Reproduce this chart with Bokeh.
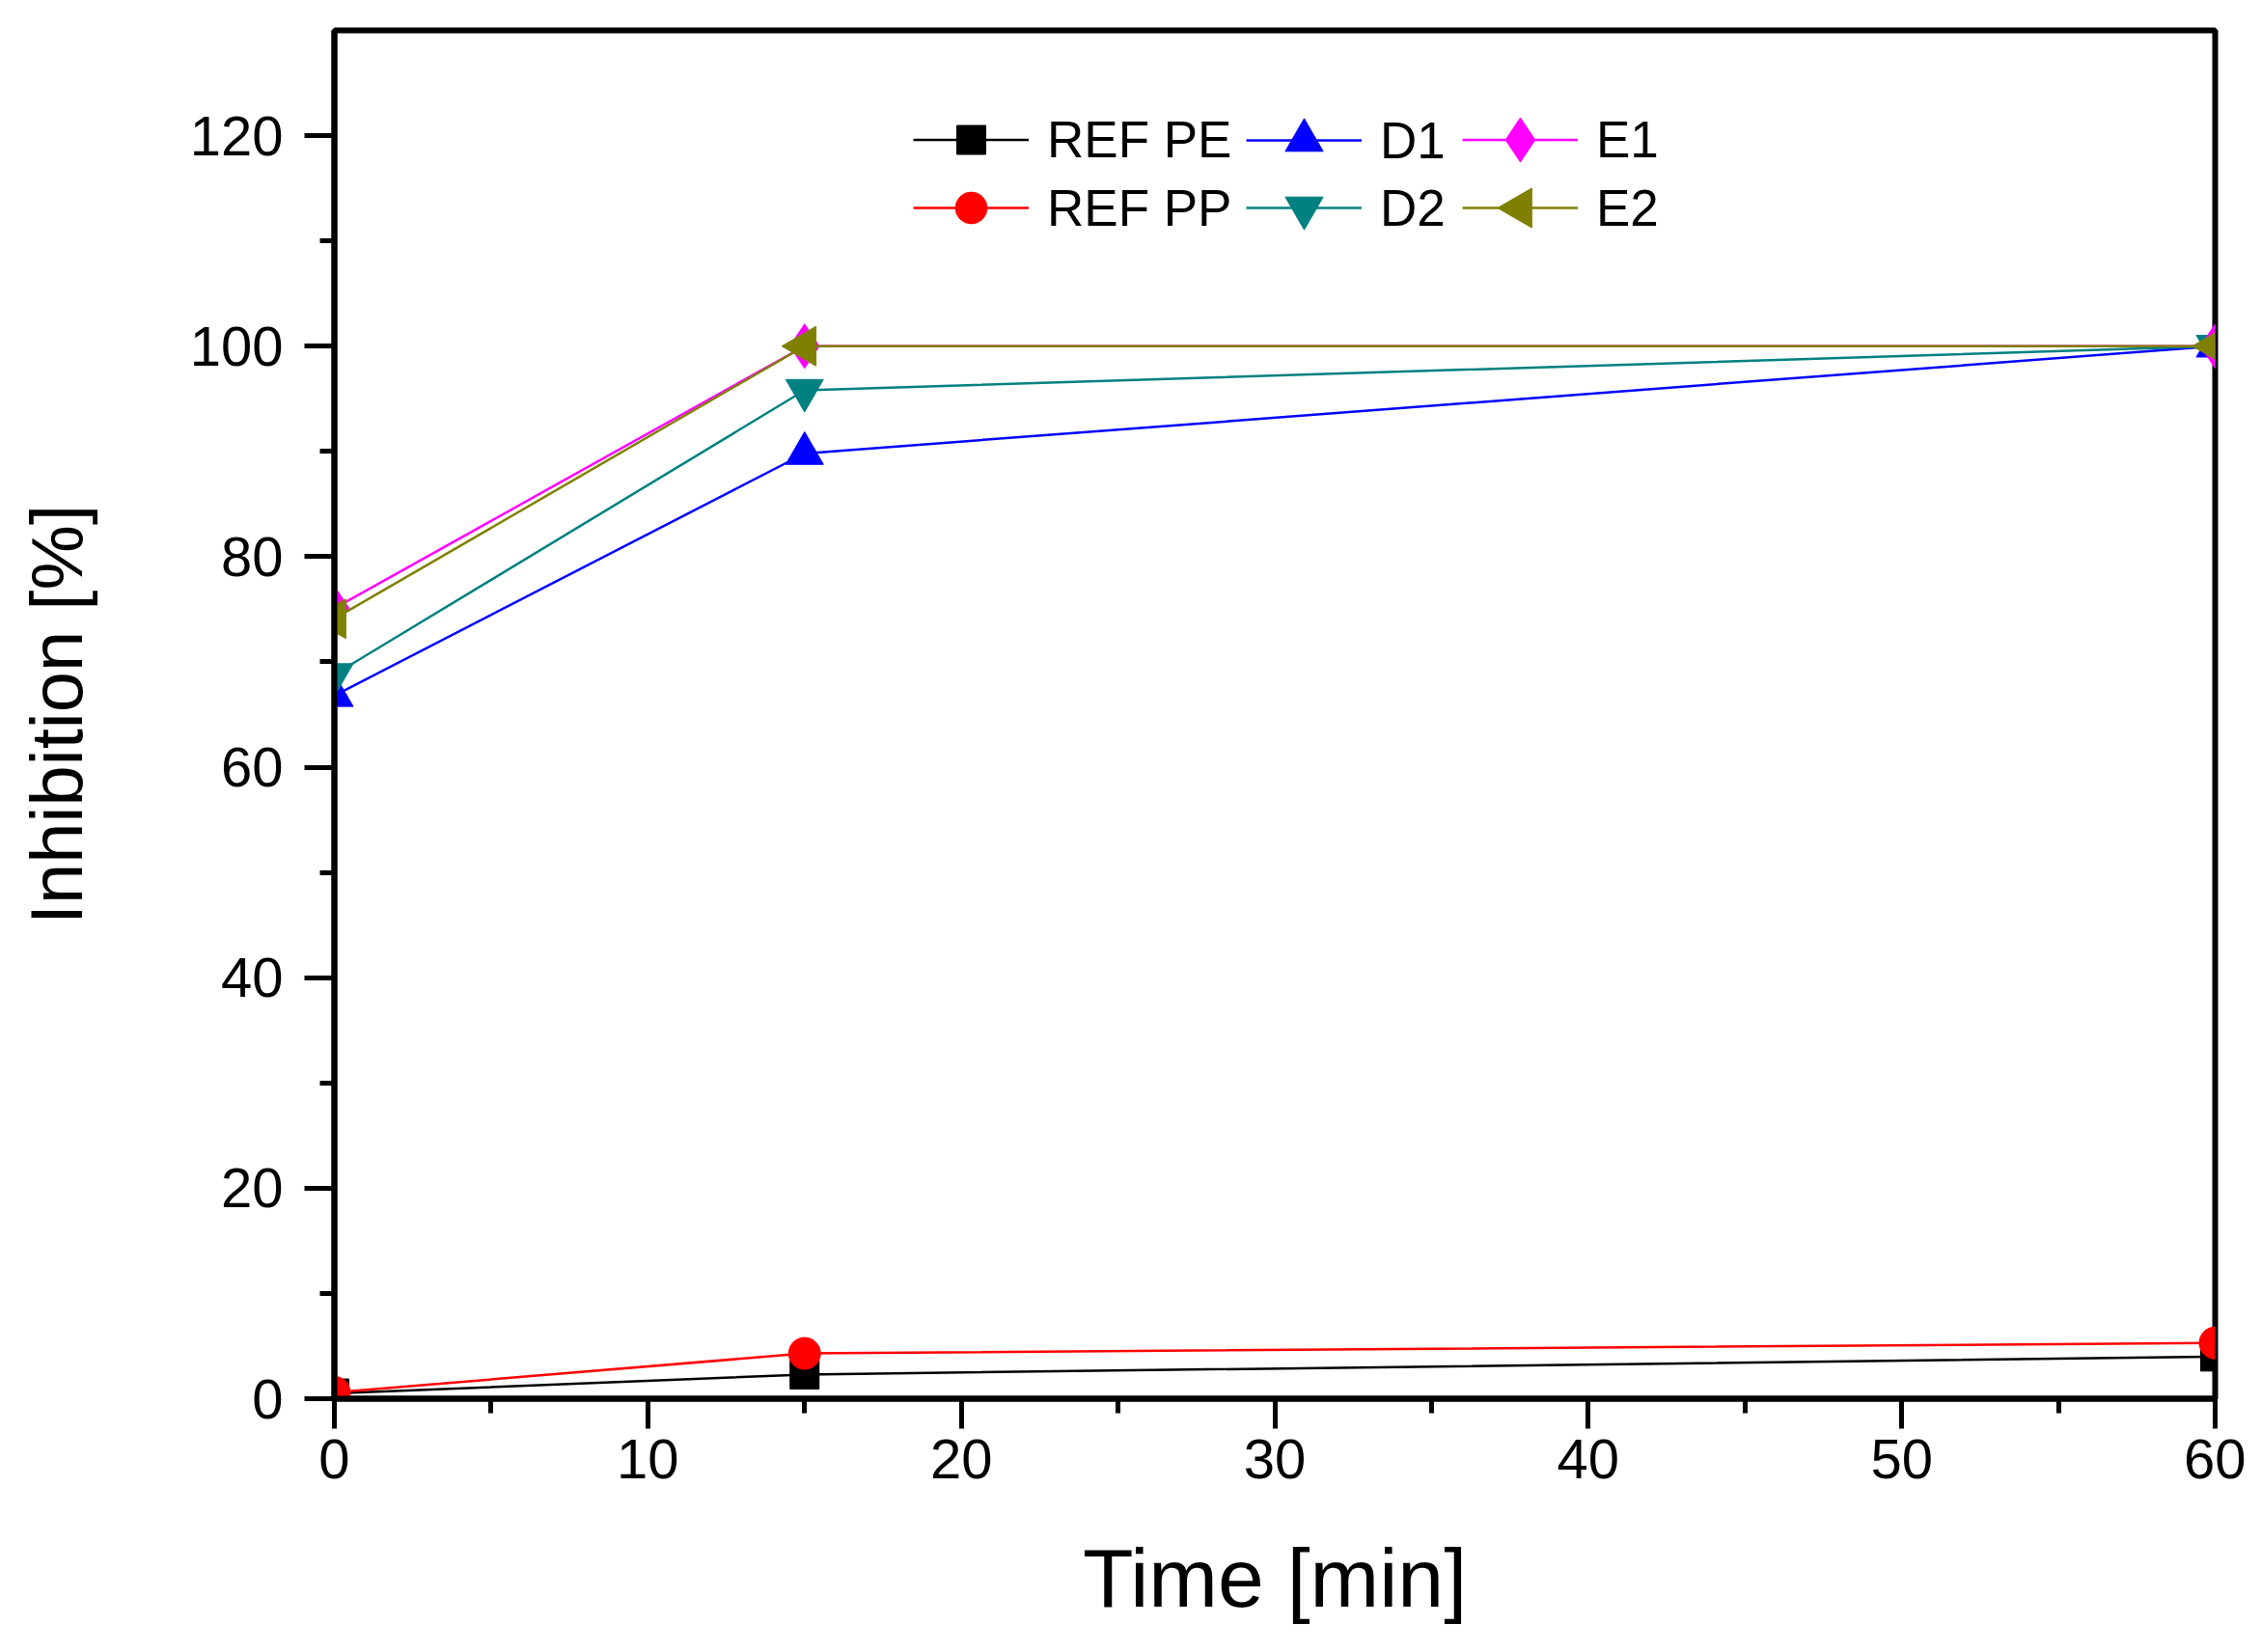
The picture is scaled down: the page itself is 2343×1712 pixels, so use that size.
import math
from bokeh.plotting import figure
from bokeh.models import Legend, LegendItem, FixedTicker
from bokeh.embed import file_html
from bokeh.resources import INLINE

# --- data
time_min = [0, 15, 60]
ref_pe = [0.5, 2.3, 4.0]
ref_pp = [0.6, 4.3, 5.3]
d1 = [66.8, 89.8, 100.0]
d2 = [68.8, 95.8, 100.0]
e1 = [75.1, 100.0, 100.0]
e2 = [74.1, 100.0, 100.0]

series_names = ["REF PE", "REF PP", "D1", "D2", "E1", "E2"]
series_values = [ref_pe, ref_pp, d1, d2, e1, e2]

x_ticks = [0, 10, 20, 30, 40, 50, 60]
x_minor = [5, 15, 25, 35, 45, 55]
y_ticks = [0, 20, 40, 60, 80, 100, 120]
y_minor = [10, 30, 50, 70, 90, 110]

# --- styles (colour, marker, size, angle), legend column/row
styles = {
    "REF PE": dict(color="#000000", marker="square", size=30, angle=0.0, col=0, row=0),
    "REF PP": dict(color="#FF0000", marker="circle", size=33, angle=0.0, col=0, row=1),
    "D1": dict(color="#0000FF", marker="triangle", size=39, angle=0.0, col=1, row=0),
    "D2": dict(color="#008080", marker="inverted_triangle", size=39, angle=0.0, col=1, row=1),
    "E1": dict(color="#FF00FF", marker="diamond", size=46, angle=0.0, col=2, row=0),
    "E2": dict(color="#808000", marker="triangle", size=41, angle=math.pi / 2, col=2, row=1),
}

FONT = "Liberation Sans"
FRAME_W, FRAME_H = 1949, 1418
X0, X1, Y0, Y1 = 0, 60, 0, 130

p = figure(frame_width=FRAME_W, frame_height=FRAME_H,
           x_range=(X0, X1), y_range=(Y0, Y1),
           min_border_left=346, min_border_top=31,
           min_border_right=32, min_border_bottom=247,
           output_backend="svg", toolbar_location=None)

p.background_fill_color = "white"
p.border_fill_color = "white"
p.xgrid.visible = False
p.ygrid.visible = False
p.outline_line_color = "black"
p.outline_line_width = 6

p.xaxis.ticker = FixedTicker(ticks=x_ticks, minor_ticks=x_minor)
p.yaxis.ticker = FixedTicker(ticks=y_ticks, minor_ticks=y_minor)
p.xaxis.axis_label = "Time [min]"
p.yaxis.axis_label = "Inhibition [%]"

for ax in (p.xaxis, p.yaxis):
    ax.axis_line_width = 6
    ax.axis_line_color = "black"
    ax.major_tick_out = 31
    ax.major_tick_in = 0
    ax.minor_tick_out = 15
    ax.minor_tick_in = 0
    ax.major_tick_line_width = 5
    ax.minor_tick_line_width = 5
    ax.major_tick_line_color = "black"
    ax.minor_tick_line_color = "black"
    ax.major_label_text_font = FONT
    ax.major_label_text_font_size = "58px"
    ax.major_label_text_color = "black"
    ax.axis_label_text_font = FONT
    ax.axis_label_text_font_style = "normal"
    ax.axis_label_text_color = "black"

p.xaxis.major_label_standoff = 11
p.yaxis.major_label_standoff = 22
p.xaxis.axis_label_text_font_size = "86px"
p.yaxis.axis_label_text_font_size = "76px"
p.xaxis.axis_label_standoff = 52
p.yaxis.axis_label_standoff = 93

col_x = [600, 945, 1169]      # legend glyph start, px from frame left
row_c = [114, 184]            # legend row centres, px from frame top
GLYPH_W = 120

for name, vals in zip(series_names, series_values):
    st = styles[name]
    ln = p.line(time_min, vals, line_color=st["color"], line_width=2.5)
    sc = p.scatter(time_min, vals, marker=st["marker"], size=st["size"],
                   angle=st["angle"], fill_color=st["color"],
                   line_color=st["color"], line_width=1)
    gh = int(round(st["size"] / 0.4))
    key = [ln, sc]
    if st["angle"] != 0:
        # legend keys ignore marker angle: draw the rotated key marker over the legend
        cx = X0 + (col_x[st["col"]] + GLYPH_W / 2) * (X1 - X0) / FRAME_W
        cy = Y1 - row_c[st["row"]] * (Y1 - Y0) / FRAME_H
        p.scatter([cx], [cy], marker=st["marker"], size=st["size"], angle=st["angle"],
                  fill_color=st["color"], line_color=st["color"], line_width=1, level="overlay")
        key = [ln]
    leg = Legend(items=[LegendItem(label=name, renderers=key)],
                 location=(col_x[st["col"]], FRAME_H - row_c[st["row"]] - gh // 2),
                 glyph_width=GLYPH_W, glyph_height=gh, label_height=gh,
                 label_standoff=19, padding=0, margin=0, spacing=0,
                 border_line_color=None, background_fill_alpha=0,
                 label_text_font=FONT, label_text_font_size="53px",
                 label_text_color="black")
    p.add_layout(leg)

open("out.html", "w").write(file_html(p, INLINE))
